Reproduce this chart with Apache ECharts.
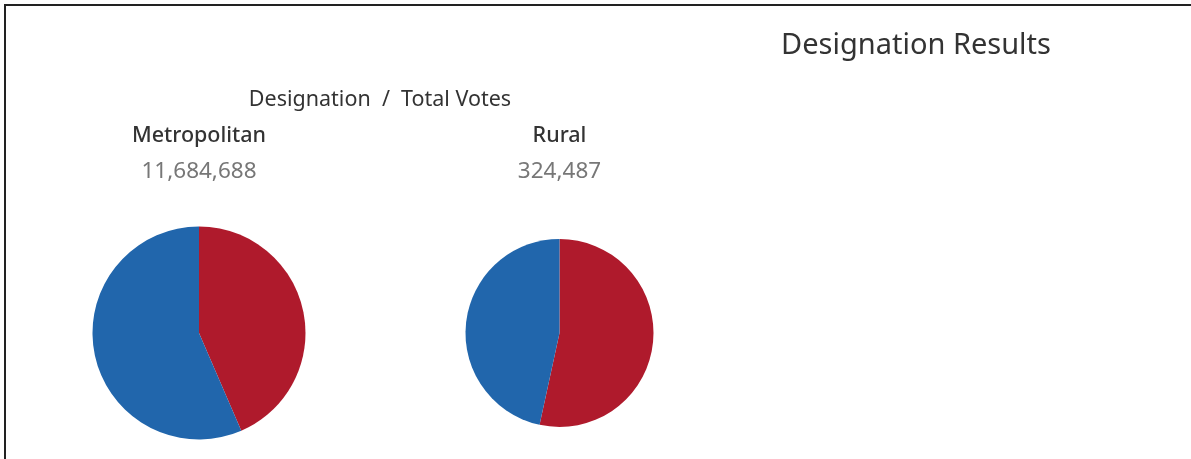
<!DOCTYPE html>
<html>
<head>
<meta charset="utf-8">
<script src="https://cdn.jsdelivr.net/npm/echarts@6/dist/echarts.min.js"></script>
<style>
html,body{margin:0;padding:0;background:#fff;}
#main{width:1191px;height:459px;}
</style>
</head>
<body>
<div id="main"></div>
<script>
const categories = ["Metropolitan", "Rural"];
const totalVotes = [11684688, 324487];
const parties = ["Republican", "Democrat"];
const redShare = [43.5, 53.4];
const blueShare = [56.5, 46.6];

const colors = ["#AF1A2C", "#2166AC"];
const centers = [[199, 333], [559.5, 333]];
const radii = [106.5, 94];
const font = "Noto Sans";

const chart = echarts.init(document.getElementById('main'), null, {renderer: 'canvas'});

function txt(text, x, y, size, weight, color) {
  return {type: 'text', x: x, y: y, silent: true,
    style: {text: text, fontFamily: font, fontSize: size, fontWeight: weight,
      fill: color, align: 'center', verticalAlign: 'middle'}};
}

const graphics = [
  {type: 'rect', shape: {x: 5, y: 5, width: 1200, height: 470},
   style: {fill: 'none', stroke: '#222', lineWidth: 2}, silent: true},
  txt("Designation Results", 916, 46, 29, 'normal', '#333'),
  txt("Designation  /  Total Votes", 380, 100, 21.5, 'normal', '#333')
];
categories.forEach((c, i) => {
  graphics.push(txt(c, centers[i][0], 136, 21.5, 500, '#333'));
  graphics.push(txt(totalVotes[i].toLocaleString('en-US'), centers[i][0], 172, 22.5, 'normal', '#777'));
});

const series = categories.map((c, i) => ({
  type: 'pie',
  name: c,
  center: centers[i],
  radius: radii[i],
  startAngle: 90,
  clockwise: true,
  label: {show: false},
  labelLine: {show: false},
  emphasis: {disabled: true},
  silent: true,
  animation: false,
  itemStyle: {borderWidth: 0},
  data: [
    {name: parties[0], value: redShare[i], itemStyle: {color: colors[0]}},
    {name: parties[1], value: blueShare[i], itemStyle: {color: colors[1]}}
  ]
}));

chart.setOption({
  backgroundColor: '#fff',
  animation: false,
  graphic: graphics,
  series: series
});
</script>
</body>
</html>
